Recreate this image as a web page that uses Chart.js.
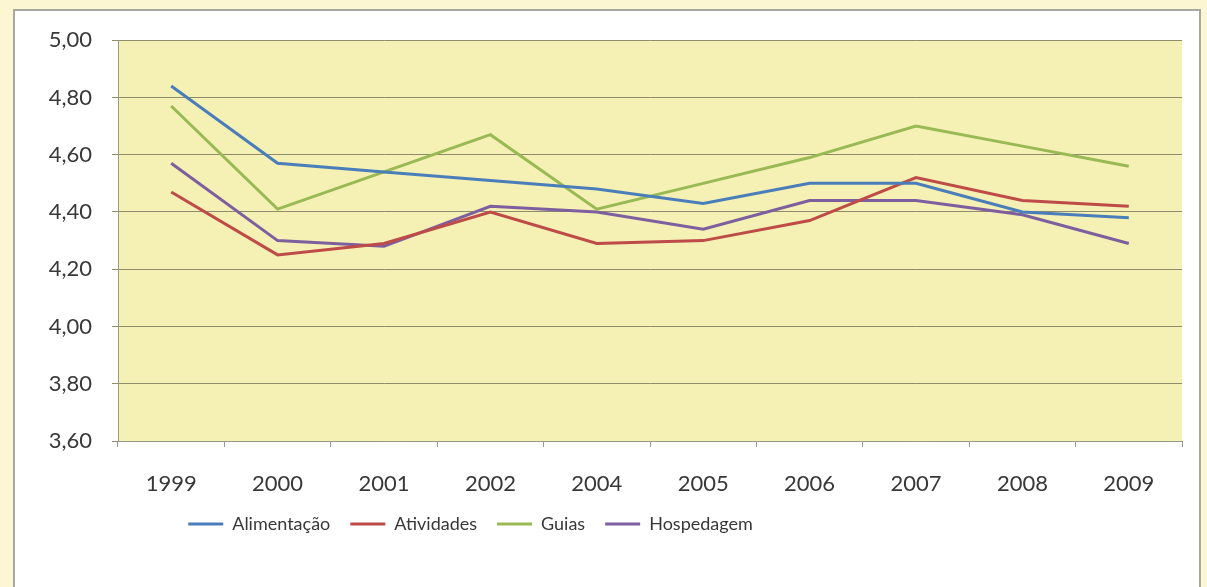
<!DOCTYPE html>
<html>
<head>
<meta charset="utf-8">
<script src="https://cdn.jsdelivr.net/npm/chart.js@4"></script>
<style>
  html, body { margin: 0; padding: 0; background: #fdf6d3; width: 1207px; height: 587px; overflow: hidden; }
  #box { position: absolute; left: 13px; top: 9px; width: 1188px; height: 590px; background: #fff;
         border: 2px solid #a8a8a0; box-sizing: border-box; }
  #wrap { position: absolute; left: 0; top: -4px; width: 1184px; height: 582px; }
</style>
</head>
<body>
<div id="box"><div id="wrap"><canvas id="chart"></canvas></div></div>
<script>
// ------------------------------
// DATA
// ------------------------------
const years = ["1999", "2000", "2001", "2002", "2004", "2005", "2006", "2007", "2008", "2009"];
const alimentacao = [4.84, 4.57, 4.54, 4.51, 4.48, 4.43, 4.50, 4.50, 4.40, 4.38];
const atividades  = [4.47, 4.25, 4.29, 4.40, 4.29, 4.30, 4.37, 4.52, 4.44, 4.42];
const guias       = [4.77, 4.41, 4.54, 4.67, 4.41, 4.50, 4.59, 4.70, 4.63, 4.56];
const hospedagem  = [4.57, 4.30, 4.28, 4.42, 4.40, 4.34, 4.44, 4.44, 4.39, 4.29];

const yMin = 3.6, yMax = 5.0, yStep = 0.2;

// plot background
const plotFill = {
    id: "plotFill",
    beforeDraw(chart) {
        const a = chart.chartArea;
        const ctx = chart.ctx;
        ctx.save();
        ctx.fillStyle = "#f5f0b3";
        ctx.fillRect(a.left, a.top, a.right - a.left, a.bottom - a.top);
        ctx.restore();
    }
};

// legend sits left of centre in the original
const legendShift = {
    id: "legendShift",
    afterLayout(chart) {
        const lg = chart.legend;
        if (!lg) return;
        lg.left -= 128;
        lg.right -= 128;
    }
};

function series(label, data, color) {
    return {
        label: label,
        data: data,
        borderColor: color,
        backgroundColor: color,
        borderWidth: 3,
        pointRadius: 0,
        tension: 0,
        fill: false
    };
}

const ctx = document.getElementById("chart").getContext("2d");
new Chart(ctx, {
    type: "line",
    data: {
        labels: years,
        datasets: [
            series("Alimentação", alimentacao, "#4a7ebb"),
            series("Atividades", atividades, "#be4b48"),
            series("Guias", guias, "#98b954"),
            series("Hospedagem", hospedagem, "#7d5fa0")
        ]
    },
    options: {
        responsive: true,
        maintainAspectRatio: false,
        animation: false,
        layout: { padding: { top: 25, right: 17, left: 0, bottom: 46 } },
        scales: {
            x: {
                offset: true,
                grid: { display: true, drawOnChartArea: false, offset: true, tickLength: 6, color: "#9a9a8a" },
                border: { color: "#9a9a8a", width: 1 },
                ticks: { color: "#383838", font: { family: "Lato", size: 22 }, padding: 24 },
                afterFit(scale) { scale.height = 54; }
            },
            y: {
                min: yMin,
                max: yMax,
                grid: { color: "#8f8c6c", lineWidth: 1, tickLength: 6 },
                border: { color: "#9a9a8a", width: 1 },
                ticks: {
                    stepSize: yStep,
                    color: "#383838",
                    font: { family: "Lato", size: 22 },
                    padding: 20,
                    callback: v => v.toFixed(2).replace(".", ",")
                },
                afterFit(scale) { scale.width = 103; }
            }
        },
        plugins: {
            legend: {
                position: "bottom",
                labels: {
                    usePointStyle: true,
                    pointStyle: "line",
                    pointStyleWidth: 35,
                    boxHeight: 3,
                    color: "#383838",
                    font: { family: "Lato", size: 18 },
                    padding: 20
                }
            },
            tooltip: { enabled: false }
        }
    },
    plugins: [plotFill, legendShift]
});
</script>
</body>
</html>
